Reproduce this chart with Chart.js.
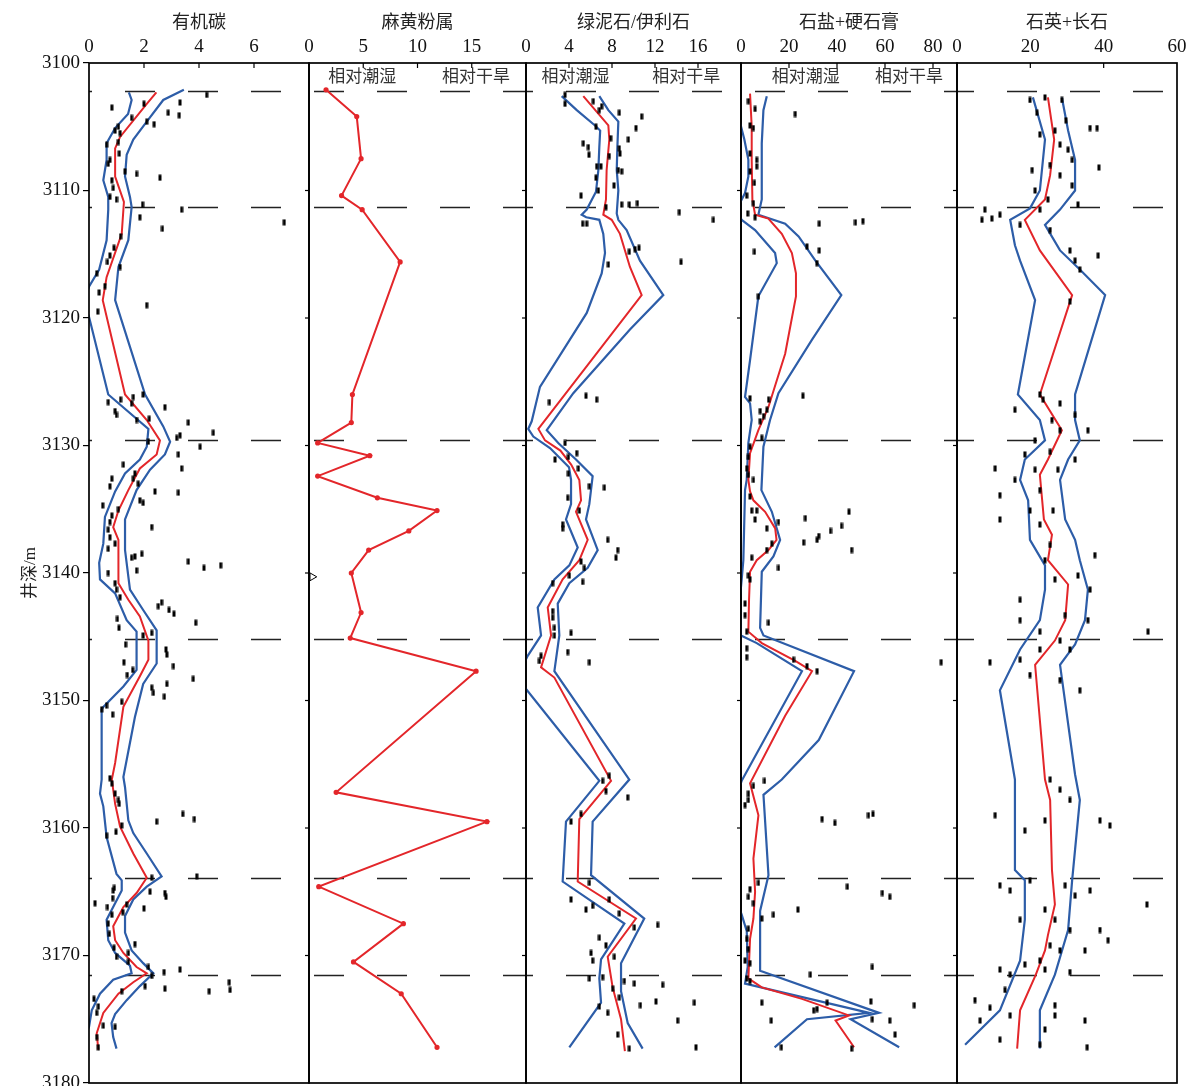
<!DOCTYPE html>
<html><head><meta charset="utf-8">
<script src="https://cdn.jsdelivr.net/npm/chart.js@4.4.1/dist/chart.umd.min.js"></script>
<style>
html,body{margin:0;padding:0;background:#fff;overflow:hidden;width:1192px;height:1086px;}
#wrap{position:relative;width:1192px;height:1086px;background:#fff;}
</style></head><body><div id="wrap"></div>
<script>
// ---------------- DATA (depth m, value) ----------------
const depthMin = 3100, depthMax = 3180, depthStep = 10;
const boundaryDepths = [3102.2, 3111.3, 3129.6, 3145.2, 3163.9, 3171.5];
const panelTitles = ['有机碳', '麻黄粉属', '绿泥石/伊利石', '石盐+硬石膏', '石英+长石'];
const axisMax = [8, 20, 20, 90, 60];
const axisStep = [2, 5, 4, 20, 20];
const humidLabel = '相对潮湿', aridLabel = '相对干旱';

// 有机碳
const tocDots = [[3102.5,4.28],[3103.5,0.83],[3103.2,2.0],[3103.1,3.31],[3103.9,2.88],[3104.1,3.28],[3104.3,1.55],[3104.6,2.1],[3104.8,2.37],[3105.0,1.07],[3105.3,0.95],[3105.5,1.13],[3106.2,1.07],[3106.4,0.64],[3107.1,1.1],[3107.6,0.76],[3107.9,0.7],[3108.5,1.31],[3108.7,1.73],[3109.0,2.58],[3109.2,0.83],[3109.8,0.88],[3110.5,0.76],[3110.7,1.0],[3111.1,1.95],[3111.5,3.37],[3112.1,1.85],[3113.0,2.67],[3112.5,7.1],[3113.6,1.15],[3114.5,0.91],[3115.1,0.76],[3115.6,0.67],[3116.0,1.13],[3116.5,0.28],[3117.5,0.58],[3118.0,0.37],[3119.0,2.1],[3119.5,0.32],[3126.6,0.7],[3126.4,1.15],[3126.2,1.61],[3126.0,1.97],[3127.3,0.95],[3127.6,1.0],[3126.7,1.55],[3127.0,2.76],[3128.0,1.73],[3127.9,2.19],[3128.2,3.61],[3129.0,4.52],[3129.2,3.31],[3129.4,3.19],[3129.7,2.16],[3130.1,4.04],[3130.7,3.25],[3131.8,3.37],[3131.5,1.25],[3132.2,1.67],[3132.6,1.61],[3132.6,0.83],[3133.2,0.76],[3133.0,1.79],[3133.6,2.4],[3133.7,3.25],[3134.3,1.85],[3134.5,1.97],[3134.7,0.5],[3135.0,1.07],[3135.5,0.83],[3136.0,0.76],[3136.4,2.28],[3136.6,0.7],[3137.2,0.76],[3137.7,0.95],[3138.1,0.7],[3138.8,1.55],[3138.5,1.92],[3138.7,1.67],[3139.8,1.73],[3139.1,3.61],[3139.6,4.18],[3139.4,4.79],[3140.0,0.7],[3140.8,0.95],[3141.3,1.0],[3141.9,1.13],[3142.3,2.64],[3142.6,2.52],[3142.9,2.91],[3143.2,3.09],[3143.6,1.03],[3144.3,1.09],[3143.9,3.88],[3144.9,1.97],[3144.7,2.28],[3145.6,1.33],[3146.0,2.8],[3146.4,2.83],[3147.0,1.27],[3147.3,3.07],[3147.6,1.59],[3148.0,1.39],[3148.3,3.79],[3149.0,2.28],[3149.4,2.34],[3148.7,2.83],[3149.7,2.74],[3150.7,0.46],[3150.4,0.64],[3150.1,1.19],[3151.1,0.86],[3156.1,0.76],[3156.5,0.83],[3157.3,0.95],[3157.8,1.07],[3158.1,1.1],[3159.5,2.46],[3158.9,3.41],[3159.3,3.83],[3159.8,1.19],[3160.3,0.98],[3160.6,0.64],[3163.9,2.28],[3163.8,3.92],[3164.7,0.92],[3164.9,0.88],[3165.0,2.22],[3165.1,2.76],[3165.4,2.8],[3165.9,0.22],[3165.5,0.86],[3166.2,0.67],[3166.0,1.37],[3166.3,2.0],[3166.6,1.23],[3166.8,0.83],[3167.5,0.7],[3168.3,0.74],[3169.4,0.91],[3169.1,1.67],[3169.8,1.43],[3170.1,1.0],[3170.5,1.43],[3170.9,2.16],[3171.3,2.73],[3171.1,3.31],[3171.6,2.28],[3172.4,2.04],[3172.6,2.76],[3172.8,4.37],[3172.1,5.1],[3172.7,5.13],[3172.8,1.19],[3173.4,0.18],[3174.0,0.34],[3174.5,0.28],[3175.5,0.52],[3176.4,0.28],[3177.2,0.34],[3175.6,0.95]];
const tocMean = [[3102.3,2.45],[3103.2,2.1],[3105.8,1.13],[3106.7,0.95],[3108.9,0.95],[3110.9,1.27],[3113.4,1.19],[3116.8,0.64],[3118.6,0.5],[3126.0,1.31],[3128.0,2.1],[3129.6,2.58],[3130.7,2.46],[3131.8,1.85],[3133.5,1.43],[3135.1,1.07],[3136.4,0.88],[3137.4,1.07],[3140.8,1.07],[3142.1,1.43],[3143.4,1.85],[3145.3,2.16],[3146.8,2.16],[3148.1,1.85],[3150.5,1.25],[3154.9,0.95],[3156.2,0.83],[3158.1,0.95],[3159.9,1.13],[3162.0,1.61],[3163.9,2.1],[3165.1,1.73],[3166.2,1.25],[3167.7,0.88],[3168.8,0.95],[3169.8,1.25],[3170.9,1.73],[3171.4,2.1],[3172.1,1.61],[3173.0,1.07],[3174.5,0.52],[3176.1,0.28],[3177.4,0.34]];
const tocLow = [[3102.3,1.45],[3102.9,1.55],[3104.0,1.42],[3105.1,0.95],[3106.3,0.64],[3107.6,0.64],[3109.2,0.52],[3110.5,0.7],[3111.5,0.7],[3113.9,0.64],[3116.2,0.37],[3117.5,0.01],[3118.7,-0.2],[3119.9,0],[3126.0,0.7],[3128.7,2.16],[3130.1,2.1],[3131.1,1.85],[3132.2,1.31],[3133.6,0.95],[3135.6,0.58],[3137.7,0.52],[3139.2,0.37],[3140.5,0.4],[3141.6,0.95],[3143.7,1.37],[3144.6,1.73],[3147.6,1.73],[3148.9,1.25],[3150.5,0.52],[3150.7,0.46],[3156.2,0.46],[3157.3,0.4],[3158.3,0.52],[3160.7,0.64],[3163.6,1.0],[3164.1,1.19],[3164.9,1.19],[3165.9,0.95],[3167.2,0.64],[3168.8,0.7],[3169.8,0.95],[3170.8,1.49],[3171.4,1.55],[3171.9,0.88],[3173.0,0.4],[3174.3,0.1],[3175.6,0],[3176.5,-0.2]];
const tocHigh = [[3102.1,3.45],[3102.9,2.7],[3104.6,2.1],[3106.0,1.61],[3107.2,1.37],[3108.9,1.31],[3110.5,1.49],[3111.3,1.55],[3113.9,1.43],[3116.0,1.07],[3118.6,0.95],[3126.0,2.04],[3128.5,2.7],[3129.7,2.95],[3130.7,2.76],[3131.9,2.22],[3133.5,1.73],[3135.8,1.31],[3138.2,1.31],[3141.3,1.49],[3142.9,1.97],[3144.5,2.46],[3147.1,2.46],[3148.7,1.97],[3151.3,1.67],[3156.0,1.25],[3156.8,1.31],[3159.4,1.43],[3160.4,1.61],[3162.0,2.1],[3163.8,2.64],[3164.6,2.1],[3165.6,1.61],[3166.9,1.31],[3168.2,1.31],[3169.6,1.55],[3170.6,1.97],[3171.4,2.34],[3172.4,1.85],[3173.5,1.37],[3174.6,0.95],[3175.3,0.82],[3176.4,0.88],[3177.3,1.0]];

// 麻黄粉属
const ephedraMean = [[3102.1,1.57],[3104.2,4.4],[3107.5,4.8],[3110.4,3.0],[3111.5,4.9],[3115.6,8.4],[3126.0,4.0],[3128.2,3.9],[3129.8,0.8],[3130.8,5.6],[3132.4,0.8],[3134.1,6.3],[3135.1,11.8],[3136.7,9.2],[3138.2,5.5],[3140.0,3.9],[3143.1,4.8],[3145.1,3.8],[3147.7,15.4],[3157.2,2.5],[3159.5,16.4],[3164.6,0.9],[3167.5,8.7],[3170.5,4.1],[3173.0,8.5],[3177.2,11.8]];
const markerDepth = [3140.3], markerValue = [0.3];

// 绿泥石/伊利石
const clayDots = [[3102.5,3.63],[3103.2,3.63],[3103.0,6.26],[3103.4,7.04],[3103.7,6.82],[3103.9,8.68],[3104.2,10.76],[3105.1,10.23],[3105.0,6.51],[3105.9,7.88],[3106.0,9.52],[3106.3,5.33],[3106.6,5.8],[3107.2,5.86],[3106.7,8.68],[3107.1,8.74],[3107.3,7.75],[3108.1,6.57],[3108.1,6.97],[3108.4,8.59],[3108.5,8.9],[3109.0,6.51],[3109.6,8.19],[3110.0,6.73],[3110.4,5.12],[3111.1,8.9],[3111.1,9.61],[3111.0,10.36],[3111.3,7.44],[3111.7,14.26],[3112.3,17.43],[3112.6,5.27],[3112.6,5.65],[3114.8,9.61],[3114.6,10.14],[3114.5,10.51],[3115.6,14.42],[3115.8,7.66],[3126.6,2.17],[3126.1,5.58],[3126.4,6.57],[3129.8,3.63],[3130.6,4.72],[3130.9,3.94],[3131.1,2.7],[3131.8,4.87],[3132.2,3.94],[3133.3,7.29],[3133.2,5.89],[3134.1,3.88],[3135.1,4.96],[3136.2,3.41],[3136.5,3.41],[3137.4,7.6],[3138.2,8.53],[3138.8,8.37],[3139.1,5.12],[3139.6,5.43],[3140.7,5.27],[3140.2,4.03],[3140.8,2.48],[3143.0,2.48],[3143.5,2.48],[3144.3,2.64],[3144.9,2.64],[3144.7,4.19],[3146.2,3.88],[3146.5,1.4],[3147.0,5.89],[3146.9,1.24],[3155.9,7.75],[3156.3,7.13],[3157.1,7.44],[3157.6,9.46],[3158.9,5.12],[3159.5,4.19],[3164.3,5.89],[3165.6,4.19],[3166.4,5.58],[3166.1,6.2],[3165.6,7.75],[3166.7,8.68],[3167.6,12.25],[3167.8,10.08],[3168.6,6.82],[3169.2,7.44],[3169.8,6.05],[3170.4,6.2],[3170.1,8.22],[3171.8,5.89],[3171.7,7.13],[3172.0,9.15],[3172.2,10.08],[3172.3,12.71],[3172.6,8.06],[3173.3,8.68],[3174.0,6.82],[3174.5,7.6],[3173.6,12.09],[3173.9,10.64],[3173.7,15.66],[3175.1,14.11],[3176.2,8.53],[3177.3,9.61],[3177.2,15.81]];
const clayMean = [[3102.6,5.33],[3104.9,7.66],[3106.0,7.75],[3108.4,7.5],[3110.7,7.44],[3111.9,7.19],[3112.3,7.97],[3113.4,8.74],[3116.0,9.67],[3118.2,10.76],[3128.7,1.15],[3129.6,1.77],[3130.4,3.2],[3131.5,4.2],[3132.7,4.96],[3134.3,5.12],[3135.2,4.65],[3137.4,5.74],[3139.0,4.96],[3140.5,3.41],[3142.7,2.02],[3144.9,2.33],[3147.4,1.4],[3148.2,2.64],[3156.3,7.91],[3159.3,4.96],[3164.2,4.81],[3167.1,10.23],[3170.1,7.6],[3172.5,8.06],[3175.0,8.84],[3177.5,9.2]];
const clayLow = [[3102.6,3.32],[3103.7,4.72],[3104.9,6.42],[3105.3,6.9],[3106.6,6.82],[3108.4,6.73],[3110.1,6.51],[3111.5,5.65],[3111.9,5.18],[3112.1,5.6],[3112.3,6.82],[3113.4,7.19],[3114.9,7.35],[3116.5,7.04],[3119.6,5.65],[3125.4,1.3],[3128.1,0.53],[3128.7,0.21],[3129.3,0.68],[3130.2,2.23],[3131.7,4.0],[3132.7,4.19],[3134.6,4.19],[3135.8,3.72],[3138.0,4.81],[3139.4,4.03],[3140.5,2.64],[3142.7,1.09],[3144.9,1.4],[3146.5,0.16],[3147.8,-0.6],[3149.1,0],[3156.3,6.82],[3159.5,3.72],[3164.2,3.41],[3167.5,9.15],[3170.3,6.98],[3171.8,6.82],[3173.7,6.98],[3177.2,4.03]];
const clayHigh = [[3102.6,6.82],[3103.7,7.66],[3104.6,8.59],[3106.6,8.5],[3108.4,8.44],[3110.0,8.59],[3111.8,8.44],[3112.3,8.59],[3113.1,9.36],[3115.5,10.6],[3118.2,12.77],[3120.9,9.67],[3125.9,4.4],[3128.8,1.93],[3129.8,3.0],[3131.1,4.65],[3132.4,6.2],[3134.6,5.89],[3135.8,5.58],[3138.2,6.67],[3139.6,5.74],[3140.8,4.03],[3142.4,2.95],[3144.9,3.1],[3147.7,2.64],[3156.2,9.61],[3159.5,6.2],[3163.7,6.05],[3167.1,11.0],[3170.6,8.84],[3172.8,8.84],[3175.3,9.46],[3177.3,10.85]];

// 石盐+硬石膏
const saltDots = [[3103.0,3.07],[3103.6,5.86],[3104.9,3.77],[3105.1,5.16],[3104.0,22.6],[3107.1,3.77],[3107.6,6.55],[3108.1,6.55],[3108.5,3.77],[3109.4,5.58],[3110.4,2.38],[3111.0,5.16],[3111.8,2.79],[3112.1,5.86],[3112.6,32.6],[3112.5,47.7],[3112.4,50.8],[3114.8,5.58],[3114.4,27.5],[3114.7,32.6],[3115.7,31.6],[3118.3,7.25],[3126.1,25.8],[3126.3,3.77],[3126.4,11.5],[3127.2,10.8],[3127.3,8.0],[3127.7,9.4],[3128.1,8.0],[3129.4,8.66],[3130.1,3.77],[3130.9,3.07],[3132.3,3.07],[3131.8,2.37],[3132.7,5.17],[3134.0,3.77],[3135.1,4.47],[3135.1,6.56],[3135.8,5.87],[3136.5,10.75],[3136.0,15.6],[3135.7,26.8],[3135.2,45.0],[3136.3,41.9],[3136.7,37.3],[3137.1,32.4],[3137.4,31.7],[3137.6,26.1],[3138.2,46.1],[3138.2,10.75],[3137.7,12.85],[3139.6,15.6],[3138.8,4.47],[3140.2,3.07],[3140.5,3.77],[3142.4,1.68],[3143.3,1.68],[3143.9,11.45],[3144.6,2.37],[3145.9,2.37],[3146.6,2.37],[3146.8,21.9],[3147.3,27.5],[3147.7,31.7],[3147.0,83.4],[3156.7,5.17],[3156.3,9.78],[3157.3,3.07],[3157.8,3.07],[3158.2,1.68],[3159.3,33.8],[3159.6,39.1],[3159.0,53.1],[3158.9,55.0],[3164.3,7.26],[3164.8,3.77],[3165.4,3.07],[3165.9,5.17],[3164.6,44.3],[3165.1,58.9],[3165.4,62.0],[3167.1,8.66],[3166.8,13.5],[3166.4,23.7],[3167.9,3.07],[3168.7,2.37],[3169.5,3.07],[3170.4,1.68],[3170.6,3.77],[3170.9,54.7],[3171.5,28.9],[3171.8,2.37],[3172.0,3.77],[3173.7,8.66],[3173.7,35.9],[3173.6,54.1],[3174.3,30.3],[3174.2,31.7],[3175.0,54.7],[3175.1,12.6],[3173.9,72.2],[3175.1,62.0],[3176.2,64.2],[3177.2,16.8],[3177.3,46.1]];
const saltMean = [[3102.4,3.77],[3105.0,4.46],[3107.6,4.46],[3110.7,4.74],[3111.9,5.86],[3112.2,11.4],[3113.4,17.0],[3114.9,21.2],[3116.5,22.9],[3118.3,22.9],[3122.8,18.4],[3127.0,11.4],[3128.8,7.24],[3130.6,3.77],[3132.7,3.07],[3133.6,3.77],[3134.3,5.17],[3135.2,10.06],[3136.5,14.25],[3137.4,14.8],[3138.2,11.45],[3139.0,6.56],[3139.9,3.77],[3142.1,3.35],[3144.6,3.07],[3145.5,8.66],[3146.9,22.6],[3147.7,29.6],[3151.2,18.4],[3156.5,3.77],[3159.0,7.26],[3162.4,5.17],[3165.0,5.87],[3167.1,5.17],[3168.7,3.77],[3171.8,3.07],[3172.5,8.66],[3173.4,25.4],[3174.7,45.0],[3175.1,39.4],[3177.2,47.1]];
const saltLow = [[3104.6,-0.5],[3106.0,1.4],[3107.6,3.07],[3108.9,3.07],[3110.2,1.67],[3111.0,-0.5],[3111.9,-1.0],[3112.3,0.28],[3113.1,5.86],[3114.9,14.2],[3115.7,14.9],[3118.3,7.24],[3123.3,3.77],[3126.2,1.67],[3126.7,3.77],[3128.0,4.46],[3129.8,3.07],[3132.7,2.38],[3133.5,1.68],[3139.0,0.98],[3140.5,0.28],[3142.1,-0.5],[3144.9,0],[3145.5,6.56],[3147.7,25.4],[3156.3,0.28],[3157.5,-2],[3165.6,-2],[3166.8,0.28],[3168.1,2.4],[3170.9,2.8],[3172.2,1.68],[3174.5,53.4],[3175.0,27.5],[3177.2,14.0]];
const saltHigh = [[3102.6,10.74],[3103.7,9.34],[3106.3,8.65],[3108.4,8.65],[3110.7,8.65],[3111.9,7.24],[3112.6,18.4],[3113.6,24.0],[3115.5,31.0],[3118.2,41.8],[3121.7,29.6],[3125.9,15.6],[3128.0,12.1],[3130.1,9.34],[3133.5,8.5],[3135.2,12.85],[3137.4,16.3],[3138.7,13.5],[3139.9,8.66],[3144.3,7.96],[3144.9,9.36],[3147.7,47.1],[3153.1,32.4],[3156.2,17.0],[3157.4,9.36],[3163.7,11.45],[3166.5,7.96],[3171.2,7.96],[3174.5,57.5],[3175.0,45.7],[3177.2,65.9]];

// 石英+长石
const qfDots = [[3102.9,19.9],[3103.9,21.8],[3102.7,24.0],[3102.9,28.6],[3104.5,29.7],[3105.3,26.7],[3105.6,22.6],[3106.4,28.1],[3106.8,30.3],[3105.1,36.3],[3105.1,38.2],[3107.6,31.4],[3108.0,25.4],[3108.4,20.5],[3108.8,28.1],[3108.2,38.7],[3109.6,31.4],[3110.0,21.3],[3110.7,24.8],[3111.1,33.0],[3111.5,7.6],[3111.5,22.6],[3112.3,6.8],[3112.2,9.5],[3111.9,11.7],[3112.7,17.2],[3113.1,25.4],[3114.7,30.8],[3115.5,32.2],[3116.2,33.5],[3115.1,38.5],[3118.7,30.8],[3126.0,22.6],[3127.2,15.8],[3126.4,23.5],[3126.7,28.1],[3127.6,32.2],[3128.0,25.9],[3128.8,28.1],[3128.8,35.7],[3129.6,21.3],[3130.5,25.4],[3130.7,18.5],[3131.9,21.3],[3131.1,32.2],[3131.8,10.4],[3132.7,15.8],[3133.5,22.6],[3131.9,27.5],[3133.9,11.7],[3135.1,19.9],[3135.8,11.7],[3136.2,22.6],[3135.1,26.2],[3137.8,25.4],[3139.0,24.0],[3138.6,37.6],[3140.5,26.7],[3140.2,33.0],[3141.3,36.3],[3142.1,17.2],[3143.3,29.5],[3143.7,35.7],[3143.7,17.2],[3144.6,22.6],[3144.6,52.1],[3145.3,28.1],[3146.0,22.6],[3146.0,30.8],[3147.0,9.0],[3146.8,17.2],[3148.0,19.9],[3148.4,28.1],[3149.2,33.5],[3156.2,25.4],[3157.0,28.1],[3157.8,30.8],[3159.0,10.4],[3159.4,24.0],[3160.2,18.5],[3159.4,39.0],[3159.8,41.7],[3164.5,11.7],[3164.9,14.5],[3164.1,19.9],[3164.5,29.5],[3165.3,32.2],[3164.9,36.3],[3166.0,51.8],[3167.2,17.2],[3166.4,24.0],[3167.2,26.7],[3168.0,30.8],[3168.0,39.0],[3168.8,41.2],[3169.2,25.4],[3169.6,28.1],[3170.4,22.6],[3169.6,34.9],[3171.1,11.7],[3170.7,18.5],[3171.1,24.0],[3171.3,30.8],[3171.5,14.5],[3172.7,13.1],[3173.5,4.9],[3174.1,9.0],[3175.1,6.3],[3174.7,14.5],[3173.9,26.7],[3174.7,26.7],[3175.1,34.9],[3176.6,11.7],[3175.8,24.0],[3177.2,35.5],[3177.0,22.6]];
const qfMean = [[3102.7,24.8],[3106.0,26.5],[3108.8,25.4],[3110.7,24.0],[3112.3,18.5],[3114.7,22.6],[3118.2,31.4],[3126.0,22.6],[3128.8,28.6],[3131.1,24.8],[3132.3,22.6],[3135.8,23.7],[3137.0,25.9],[3139.0,24.8],[3140.9,30.3],[3143.7,29.5],[3145.3,26.7],[3147.2,21.3],[3156.2,24.0],[3157.8,25.4],[3163.3,25.9],[3166.0,26.7],[3168.4,24.8],[3169.6,24.0],[3171.5,21.5],[3174.3,17.2],[3177.3,16.4]];
const qfLow = [[3102.7,20.7],[3106.0,24.0],[3110.0,22.6],[3111.4,19.9],[3112.3,14.5],[3114.3,15.8],[3115.5,17.2],[3118.6,21.3],[3126.0,16.6],[3128.0,22.6],[3129.6,24.0],[3131.1,18.5],[3132.7,17.2],[3134.3,19.4],[3137.4,19.9],[3139.4,24.0],[3141.3,24.0],[3143.7,22.6],[3146.0,17.2],[3149.2,11.7],[3156.2,15.8],[3163.3,15.8],[3164.1,18.5],[3167.2,18.5],[3170.4,17.2],[3174.3,11.7],[3177.0,2.2]];
const qfHigh = [[3102.7,28.6],[3105.3,30.3],[3107.6,32.2],[3110.0,32.2],[3111.5,28.1],[3112.7,24.0],[3114.7,28.1],[3116.2,33.5],[3118.2,40.4],[3126.0,32.2],[3128.0,32.2],[3129.6,33.5],[3131.1,30.3],[3132.7,28.1],[3135.8,29.5],[3137.4,32.2],[3139.0,33.5],[3141.3,35.7],[3143.7,34.9],[3145.6,32.2],[3147.2,28.1],[3155.8,32.2],[3157.8,33.5],[3161.7,32.2],[3164.1,31.4],[3168.0,30.3],[3171.5,26.7],[3174.3,22.6],[3177.3,22.6]];

// ---------------- LAYOUT / STYLE ----------------
const FONT = "'Liberation Serif','Noto Sans CJK SC',serif";
const RED = '#e3262a', BLUE = '#2d5da8';
const panelLeft = [89, 309, 526, 741, 957];
const panelRight = [309, 526, 741, 957, 1177];
const PAD = 24, TOPH = 63, H = 1086;
const labelSpots = [null, [4.9, 15.4], [4.6, 14.9], [27, 70], null];

const toXY = arr => arr.map(p => ({x: p[1], y: p[0]}));
const dotImg = document.createElement('canvas');
dotImg.width = 4; dotImg.height = 7;
{ const g = dotImg.getContext('2d'); g.fillStyle = '#000'; g.fillRect(0.5, 0.5, 3, 6); }

function lineDs(arr, color, w) {
  return {data: toXY(arr), showLine: true, borderColor: color, borderWidth: w, pointRadius: 0, tension: 0, fill: false};
}
function dotDs(arr) {
  return {data: toXY(arr), showLine: false, pointStyle: dotImg, pointRadius: 3, borderWidth: 0};
}
const panelData = [
  [dotDs(tocDots), lineDs(tocMean, RED, 2), lineDs(tocLow, BLUE, 2.2), lineDs(tocHigh, BLUE, 2.2)],
  [lineDs(ephedraMean, RED, 2),
   {data: markerDepth.map((d, k) => ({x: markerValue[k], y: d})), showLine: false, pointStyle: 'triangle', rotation: 90, pointRadius: 4.5, backgroundColor: '#fff', borderColor: '#000', borderWidth: 1}],
  [dotDs(clayDots), lineDs(clayMean, RED, 2), lineDs(clayLow, BLUE, 2.2), lineDs(clayHigh, BLUE, 2.2)],
  [dotDs(saltDots), lineDs(saltMean, RED, 2), lineDs(saltLow, BLUE, 2.2), lineDs(saltHigh, BLUE, 2.2)],
  [dotDs(qfDots), lineDs(qfMean, RED, 2), lineDs(qfLow, BLUE, 2.2), lineDs(qfHigh, BLUE, 2.2)]
];
panelData[1][0].pointRadius = 1.6;
panelData[1][0].pointBackgroundColor = RED;
panelData[1][0].pointBorderColor = RED;

const deco = {
  id: 'deco',
  beforeDatasetsDraw(chart) {
    const {ctx, chartArea: a, scales: {y}} = chart;
    const offX = chart.canvas.parentNode.offsetLeft;
    ctx.save();
    ctx.strokeStyle = '#222'; ctx.lineWidth = 1.5;
    ctx.setLineDash([30, 33]);
    ctx.lineDashOffset = ((offX + a.left - 62) % 63 + 63) % 63;
    boundaryDepths.forEach(d => {
      const py = Math.round(y.getPixelForValue(d)) + 0.5;
      ctx.beginPath(); ctx.moveTo(a.left, py); ctx.lineTo(a.right, py); ctx.stroke();
    });
    ctx.restore();
  },
  afterDraw(chart) {
    const {ctx, chartArea: a, scales: {x, y}} = chart;
    const i = chart.options.plugins.deco.index;
    ctx.save();
    ctx.strokeStyle = '#000'; ctx.lineWidth = 1.7;
    ctx.strokeRect(a.left, a.top, a.right - a.left, a.bottom - a.top);
    ctx.lineWidth = 1.2;
    x.ticks.forEach(t => {
      if (t.value <= 0 || t.value >= axisMax[i]) return;
      const px = x.getPixelForValue(t.value);
      ctx.beginPath(); ctx.moveTo(px, a.top); ctx.lineTo(px, a.top + 5); ctx.stroke();
    });
    if (i > 0) {
      for (let d = depthMin + depthStep; d < depthMax; d += depthStep) {
        const py = y.getPixelForValue(d);
        ctx.beginPath(); ctx.moveTo(a.left - 4, py); ctx.lineTo(a.left, py); ctx.stroke();
      }
    }
    const spots = labelSpots[i];
    if (spots) {
      ctx.fillStyle = '#333';
      ctx.font = "17px " + FONT;
      ctx.textAlign = 'center'; ctx.textBaseline = 'middle';
      ctx.fillText(humidLabel, x.getPixelForValue(spots[0]), a.top + 15);
      ctx.fillText(aridLabel, x.getPixelForValue(spots[1]), a.top + 15);
    }
    ctx.restore();
  }
};

const wrap = document.getElementById('wrap');
for (let i = 0; i < 5; i++) {
  const div = document.createElement('div');
  const left = i === 0 ? 0 : panelLeft[i] - PAD;
  const width = i === 0 ? panelRight[0] + PAD : panelRight[i] - panelLeft[i] + 2 * PAD;
  div.style.cssText = `position:absolute;top:0;left:${left}px;width:${width}px;height:${H}px;`;
  const cv = document.createElement('canvas');
  div.appendChild(cv); wrap.appendChild(div);
  const showY = i === 0;
  new Chart(cv, {
    type: 'scatter',
    data: {datasets: panelData[i]},
    plugins: [deco],
    options: {
      responsive: true, maintainAspectRatio: false, animation: false, events: [],
      layout: {autoPadding: false, padding: {left: i === 0 ? 0 : PAD, right: PAD, top: 0, bottom: 3}},
      plugins: {legend: {display: false}, tooltip: {enabled: false}, deco: {index: i}},
      scales: {
        x: {
          type: 'linear', position: 'top', min: 0, max: axisMax[i],
          afterFit(s) { s.height = TOPH; s.paddingLeft = 0; s.paddingRight = 0; },
          ticks: {stepSize: axisStep[i], includeBounds: false, autoSkip: false, maxRotation: 0,
            font: {family: FONT, size: 19}, color: '#111', padding: 5,
            callback: v => (i < 3 && v === axisMax[i]) ? '' : String(v)},
          grid: {drawOnChartArea: false, drawTicks: false},
          border: {display: false},
          title: {display: true, text: panelTitles[i], font: {family: FONT, size: 18}, color: '#222', padding: {top: 12, bottom: 0}}
        },
        y: {
          type: 'linear', reverse: true, min: depthMin, max: depthMax, display: true,
          afterFit(s) { s.width = showY ? panelLeft[0] : 0; s.paddingTop = 0; s.paddingBottom = 0; },
          ticks: {display: showY, stepSize: depthStep, font: {family: FONT, size: 19}, color: '#111', padding: 3,
            callback: v => String(v)},
          grid: {display: showY, drawOnChartArea: false, drawTicks: true, tickLength: 6, color: '#000', lineWidth: 1.2},
          border: {display: false},
          title: {display: showY, text: '井深/m', font: {family: FONT, size: 17}, color: '#222', padding: {top: 20, bottom: 0}}
        }
      }
    }
  });
}
</script></body></html>
